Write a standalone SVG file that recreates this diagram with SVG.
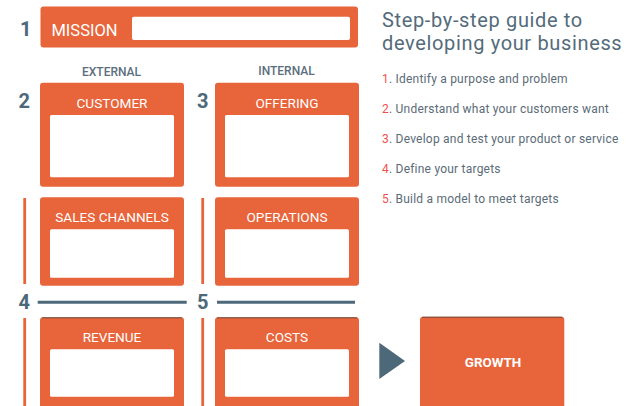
<svg xmlns="http://www.w3.org/2000/svg" width="640" height="406" viewBox="0 0 640 406">
<style>
.box{fill:#E8643A}
.inner{fill:#FFFFFF}
.topedge{stroke:#3a3a3a;stroke-width:1;stroke-opacity:0.7}
.lbl{font-family:Roboto,"Liberation Sans",sans-serif;font-size:13.6px;fill:#FFFFFF;text-anchor:middle}
.num{font-family:Roboto,"Liberation Sans",sans-serif;font-size:20px;font-weight:bold;fill:#4D6879}
.col{font-family:Roboto,"Liberation Sans",sans-serif;font-size:12px;font-weight:500;fill:#5B6E7D;text-anchor:middle}
.title{font-family:Roboto,"Liberation Sans",sans-serif;font-size:20px;letter-spacing:0.65px;fill:#546B7B}
.item{font-family:Roboto,"Liberation Sans",sans-serif;font-size:12px;letter-spacing:0.22px;fill:#5B6B78}
.red{fill:#F0504A}
.bar{fill:#E8643A}
.sep{stroke:#4D6879;stroke-width:3}
</style>
<rect width="640" height="406" fill="#FFFFFF"/>

<g id="mission">
<text class="num" x="20" y="35.5">1</text>
<rect class="box" x="40.5" y="6.5" width="317.5" height="41" rx="3"/>
<rect class="inner" x="132" y="16.7" width="218" height="23.3" rx="2"/>
<text class="lbl" x="84.5" y="35.5" style="font-size:16.5px">MISSION</text>
</g>

<text class="col" x="111.5" y="76">EXTERNAL</text>
<text class="col" x="286.5" y="75">INTERNAL</text>

<g id="customer">
<text class="num" x="18.5" y="107.5">2</text>
<rect class="box" x="40" y="82.7" width="144" height="104" rx="3"/>
<rect class="inner" x="50" y="115" width="124" height="62.3" rx="1.5"/>
<text class="lbl" x="112" y="107.7">CUSTOMER</text>
</g>

<g id="offering">
<text class="num" x="197" y="107.5">3</text>
<rect class="box" x="215" y="82.7" width="144" height="104" rx="3"/>
<rect class="inner" x="225" y="115" width="124" height="62.3" rx="1.5"/>
<text class="lbl" x="287" y="107.7">OFFERING</text>
</g>

<g id="sales-channels">
<rect class="box" x="40" y="197.3" width="144" height="88.4" rx="3"/>
<rect class="inner" x="50" y="229.3" width="124" height="48.4" rx="1.5"/>
<text class="lbl" x="112" y="222.3">SALES CHANNELS</text>
</g>

<g id="operations">
<rect class="box" x="215" y="197.3" width="144" height="88.4" rx="3"/>
<rect class="inner" x="225" y="229.3" width="124" height="48.4" rx="1.5"/>
<text class="lbl" x="287" y="222.3">OPERATIONS</text>
</g>

<g id="revenue">
<text class="num" x="18.5" y="308.5">4</text>
<rect class="box" x="40" y="317.3" width="144" height="92" rx="3"/>
<line class="topedge" x1="42" y1="317.8" x2="182" y2="317.8"/>
<rect class="inner" x="50" y="349.3" width="124" height="47.4" rx="1.5"/>
<text class="lbl" x="112" y="341.7">REVENUE</text>
</g>

<g id="costs">
<text class="num" x="197" y="308.5">5</text>
<rect class="box" x="215" y="317.3" width="144" height="92" rx="3"/>
<line class="topedge" x1="217" y1="317.8" x2="357" y2="317.8"/>
<rect class="inner" x="225" y="349.3" width="124" height="47.4" rx="1.5"/>
<text class="lbl" x="287" y="341.7">COSTS</text>
</g>

<g id="growth">
<rect class="box" x="420" y="316.7" width="144.3" height="92" rx="3"/>
<line class="topedge" x1="422" y1="317.2" x2="562.3" y2="317.2"/>
<text class="lbl" x="493" y="366.7" style="font-weight:bold;font-size:13.4px">GROWTH</text>
</g>

<g id="connectors">
<rect class="bar" x="23.3" y="198" width="2.8" height="86"/>
<rect class="bar" x="201.3" y="198" width="2.8" height="86"/>
<rect class="bar" x="23.3" y="318" width="2.8" height="88"/>
<rect class="bar" x="201.3" y="318" width="2.8" height="88"/>
<line class="sep" x1="37.7" y1="302.3" x2="186.7" y2="302.3"/>
<line class="sep" x1="217" y1="302.3" x2="355" y2="302.3"/>
<polygon points="379.3,342.7 405,361 379.3,379" fill="#4D6879"/>
</g>

<g id="guide">
<text class="title" x="382" y="26.7">Step-by-step guide to</text>
<text class="title" x="382" y="50">developing your business</text>
<text class="item" x="382" y="83.3"><tspan class="red">1</tspan>. Identify a purpose and problem</text>
<text class="item" x="382" y="113.3"><tspan class="red">2</tspan>. Understand what your customers want</text>
<text class="item" x="382" y="143.3"><tspan class="red">3</tspan>. Develop and test your product or service</text>
<text class="item" x="382" y="172.7"><tspan class="red">4</tspan>. Define your targets</text>
<text class="item" x="382" y="202.7"><tspan class="red">5</tspan>. Build a model to meet targets</text>
</g>
</svg>
